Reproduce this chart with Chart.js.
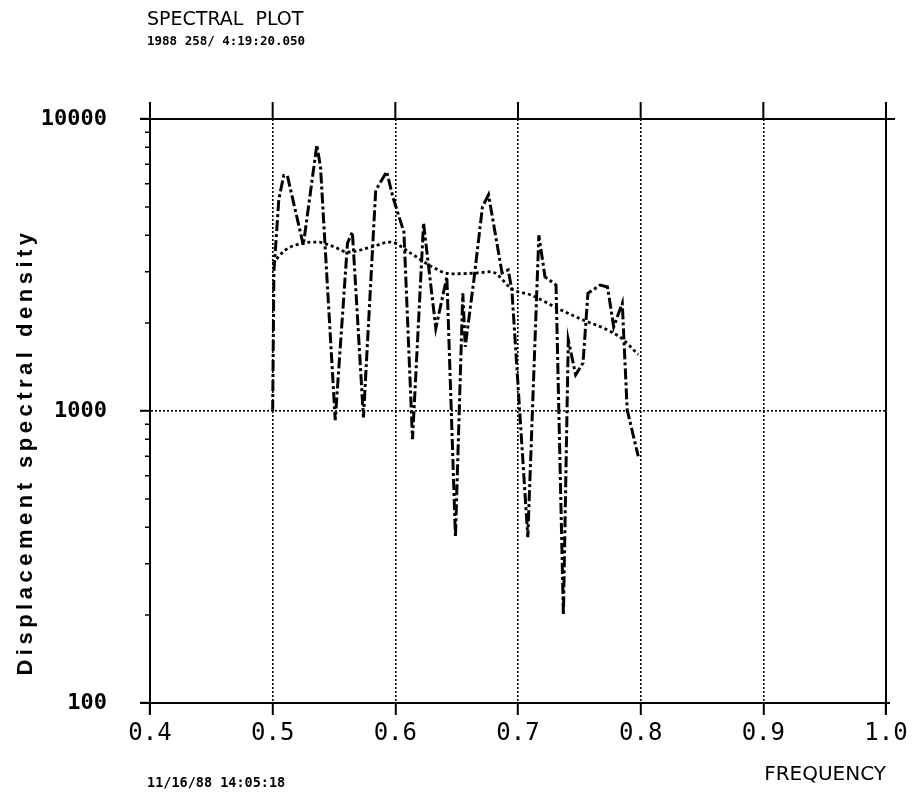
<!DOCTYPE html>
<html>
<head>
<meta charset="utf-8">
<title>Spectral plot</title>
<script src="https://cdn.jsdelivr.net/npm/chart.js@4.4.1/dist/chart.umd.min.js"></script>
<style>
  html, body { margin: 0; padding: 0; background: #fff; }
  canvas { display: block; }
</style>
</head>
<body>
<canvas id="spectrum" width="913" height="796"></canvas>
<script>
// valeurs
const freqDash = [0.500, 0.501, 0.505, 0.509, 0.512, 0.525, 0.536, 0.539, 0.551, 0.561, 0.565, 0.574,
  0.584, 0.593, 0.598, 0.607, 0.614, 0.623, 0.633, 0.642, 0.649, 0.655, 0.657, 0.664, 0.671, 0.676,
  0.687, 0.692, 0.695, 0.708, 0.717, 0.722, 0.731, 0.737, 0.741, 0.747, 0.753, 0.757, 0.767, 0.773,
  0.778, 0.785, 0.789, 0.798];
const psdDash = [1000, 3000, 5300, 6400, 6400, 3700, 8150, 6850, 930, 3760, 4100, 950,
  5700, 6600, 5400, 4100, 800, 4400, 1920, 2880, 370, 2530, 1660, 2800, 5000, 5500,
  2970, 3040, 2600, 370, 4000, 2880, 2700, 200, 1750, 1330, 1460, 2530, 2700, 2660,
  1940, 2340, 1010, 700];

const freqDot = [0.500, 0.510, 0.525, 0.536, 0.550, 0.561, 0.580, 0.596, 0.612, 0.631, 0.645,
  0.667, 0.678, 0.696, 0.710, 0.732, 0.753, 0.770, 0.784, 0.798];
const psdDot = [3200, 3550, 3760, 3790, 3650, 3500, 3640, 3790, 3480, 3100, 2950,
  2970, 3000, 2600, 2500, 2250, 2050, 1920, 1780, 1560];

const xTicks = [0.4, 0.5, 0.6, 0.7, 0.8, 0.9, 1.0];
const yTicks = [100, 1000, 10000];

const toPoints = (xs, ys) => xs.map((x, i) => ({ x: x, y: ys[i] }));

// cadre, graduations et textes autour du tracé
const framePlugin = {
  id: 'frame',
  afterDraw(chart) {
    const ctx = chart.ctx;
    const xs = chart.scales.x;
    const ys = chart.scales.y;
    const a = chart.chartArea;
    ctx.save();
    ctx.strokeStyle = '#000';
    ctx.lineWidth = 2;
    ctx.setLineDash([]);
    ctx.beginPath();
    // cadre
    ctx.moveTo(a.left - 10, a.top); ctx.lineTo(a.right + 9, a.top);
    ctx.moveTo(a.left - 10, a.bottom); ctx.lineTo(a.right + 4, a.bottom);
    ctx.moveTo(a.right, a.top - 17); ctx.lineTo(a.right, a.bottom + 12);
    ctx.moveTo(a.left, a.top - 17); ctx.lineTo(a.left, a.bottom + 12);
    // graduations en haut
    xTicks.forEach(v => {
      const px = xs.getPixelForValue(v);
      ctx.moveTo(px, a.top - 17); ctx.lineTo(px, a.top);
    });
    ctx.stroke();
    // petites graduations log
    ctx.lineWidth = 1.5;
    ctx.beginPath();
    [100, 1000].forEach(d => {
      for (let k = 2; k <= 9; k++) {
        const py = ys.getPixelForValue(d * k);
        ctx.moveTo(a.left - 5, py); ctx.lineTo(a.left, py);
      }
    });
    ctx.stroke();

    ctx.fillStyle = '#000';
    ctx.textBaseline = 'middle';
    ctx.textAlign = 'left';
    ctx.font = '19px "DejaVu Sans"';
    ctx.fillText('SPECTRAL  PLOT', 147, 20);
    ctx.font = 'bold 12.5px "DejaVu Sans Mono"';
    ctx.fillText('1988 258/ 4:19:20.050', 147, 42);
    ctx.font = 'bold 13.5px "DejaVu Sans Mono"';
    ctx.fillText('11/16/88 14:05:18', 147, 783);
    ctx.textAlign = 'right';
    ctx.font = '20px "DejaVu Sans"';
    ctx.fillText('FREQUENCY', 886, 775);

    // titre de l'axe y
    ctx.translate(26, 452);
    ctx.rotate(-Math.PI / 2);
    ctx.textAlign = 'center';
    ctx.font = 'bold 22px Arial, "Liberation Sans", sans-serif';
    ctx.letterSpacing = '4.5px';
    ctx.fillText('Displacement spectral density', 0, 0);
    ctx.restore();
  }
};

new Chart(document.getElementById('spectrum').getContext('2d'), {
  type: 'line',
  data: {
    datasets: [{
      data: toPoints(freqDash, psdDash),
      borderColor: '#000',
      borderWidth: 3,
      borderDash: [11, 3, 3, 3],
      pointRadius: 0,
      tension: 0,
      fill: false
    }, {
      data: toPoints(freqDot, psdDot),
      borderColor: '#000',
      borderWidth: 2.8,
      borderDash: [3, 3],
      pointRadius: 0,
      tension: 0.4,
      cubicInterpolationMode: 'monotone',
      fill: false
    }]
  },
  options: {
    responsive: false,
    devicePixelRatio: 1,
    animation: false,
    layout: { padding: { top: 119, right: 27, left: 0, bottom: 0 } },
    plugins: { legend: { display: false }, tooltip: { enabled: false } },
    scales: {
      x: {
        type: 'linear',
        min: 0.4,
        max: 1.0,
        afterBuildTicks: s => { s.ticks = xTicks.map(v => ({ value: v })); },
        afterFit: s => { s.height = 93; },
        ticks: {
          color: '#000',
          font: { family: 'DejaVu Sans Mono', size: 24 },
          padding: 4,
          callback: v => v.toFixed(1)
        },
        grid: {
          color: c => (c.tick && (c.tick.value === 0.4 || c.tick.value === 1.0)) ? 'rgba(0,0,0,0)' : '#000',
          lineWidth: 1.6,
          tickLength: 12,
          tickColor: '#000',
          tickWidth: 2,
          tickBorderDash: []
        },
        border: { display: true, color: '#000', width: 2, dash: [2, 2] }
      },
      y: {
        type: 'logarithmic',
        min: 100,
        max: 10000,
        afterBuildTicks: s => { s.ticks = yTicks.map(v => ({ value: v })); },
        afterFit: s => { s.width = 150; },
        ticks: {
          color: '#000',
          font: { family: 'DejaVu Sans Mono', size: 22, weight: 'bold' },
          padding: 33,
          callback: v => String(v)
        },
        grid: {
          color: c => (c.tick && c.tick.value === 1000) ? '#000' : 'rgba(0,0,0,0)',
          lineWidth: 1.6,
          tickLength: 10,
          tickColor: '#000',
          tickWidth: 2,
          tickBorderDash: []
        },
        border: { display: true, color: '#000', width: 2, dash: [2, 2] }
      }
    }
  },
  plugins: [framePlugin]
});
</script>
</body>
</html>
